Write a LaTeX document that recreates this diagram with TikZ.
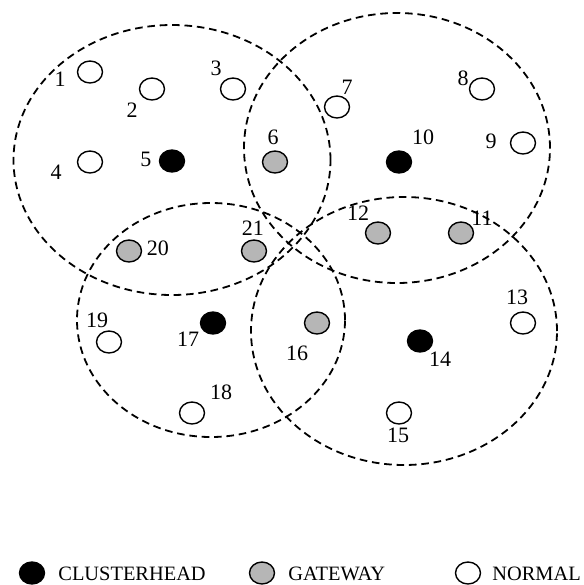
\documentclass[tikz,border=0pt]{standalone}
\usepackage{fontspec}
\setmainfont{Liberation Serif}
\usepackage{tikz}
\usetikzlibrary{shapes.geometric}
\definecolor{gwgray}{RGB}{182,182,182}

\begin{document}
\begin{tikzpicture}[x=0.5pt,y=-0.5pt,
   cluster/.style={draw,ellipse,line width=0.9pt,dash pattern=on 3.8pt off 2.4pt,inner sep=0pt},
   head/.style={draw,ellipse,fill=black,line width=0.7pt,minimum width=12.5pt,minimum height=11pt,inner sep=0pt},
   gate/.style={head,fill=gwgray},
   normal/.style={head,fill=white},
   num/.style={font=\fontsize{11}{12}\selectfont,inner sep=0pt},
   key/.style={font=\fontsize{10.2}{12}\selectfont,inner sep=0pt,anchor=base west}]
 \useasboundingbox (0,0) rectangle (584,585);
 % cluster ranges (one dashed ellipse per cluster head)
 \node[cluster,minimum width=158.5pt,minimum height=135pt] (c5)  at (172,160) {};
 \node[cluster,minimum width=153pt,minimum height=135pt]   (c10) at (397,148) {};
 \node[cluster,minimum width=134pt,minimum height=117pt]   (c17) at (211,320) {};
 \node[cluster,minimum width=153pt,minimum height=134pt]   (c14) at (404,331) {};
 % cluster heads
 \node[head] (n5)  at (172,161) {};
 \node[head] (n10) at (399,162) {};
 \node[head] (n17) at (213,323) {};
 \node[head] (n14) at (420,341) {};
 % gateways
 \node[gate] (n6)  at (275,162) {};
 \node[gate] (n11) at (461,233) {};
 \node[gate] (n12) at (378,233) {};
 \node[gate] (n16) at (317,323) {};
 \node[gate] (n20) at (129,251) {};
 \node[gate] (n21) at (254,251) {};
 % normal nodes
 \node[normal] (n1)  at (90,72)   {};
 \node[normal] (n2)  at (152,89)  {};
 \node[normal] (n3)  at (233,89)  {};
 \node[normal] (n4)  at (90,162)  {};
 \node[normal] (n7)  at (337,107) {};
 \node[normal] (n8)  at (482,89)  {};
 \node[normal] (n9)  at (523,143) {};
 \node[normal] (n13) at (523,323) {};
 \node[normal] (n15) at (399,413) {};
 \node[normal] (n18) at (192,413) {};
 \node[normal] (n19) at (109,342) {};
 % node numbers
 \node[num] (l1)  at (60,79)   {1};
 \node[num] (l2)  at (132,110) {2};
 \node[num] (l3)  at (216,68)  {3};
 \node[num] (l4)  at (56,172)  {4};
 \node[num] (l5)  at (146,159) {5};
 \node[num] (l6)  at (273,137) {6};
 \node[num] (l7)  at (347,87)  {7};
 \node[num] (l8)  at (463,78)  {8};
 \node[num] (l9)  at (491,141) {9};
 \node[num] (l10) at (423,137) {10};
 \node[num] (l11) at (482,218) {11};
 \node[num] (l12) at (358,213) {12};
 \node[num] (l13) at (517,297) {13};
 \node[num] (l14) at (440,359) {14};
 \node[num] (l15) at (398,435) {15};
 \node[num] (l16) at (297,353) {16};
 \node[num] (l17) at (188,339) {17};
 \node[num] (l18) at (221,392) {18};
 \node[num] (l19) at (97,320)  {19};
 \node[num] (l20) at (158,248) {20};
 \node[num] (l21) at (253,228) {21};
 % legend
 \node[head]   (kh) at (32,573)  {};
 \node[key]    (khtext) at (58,580) {CLUSTERHEAD};
 \node[gate]   (kg) at (262,573) {};
 \node[key]    (kgtext) at (288,580) {GATEWAY};
 \node[normal] (kn) at (468,573) {};
 \node[key]    (kntext) at (492,580) {NORMAL};
\end{tikzpicture}
\end{document}
